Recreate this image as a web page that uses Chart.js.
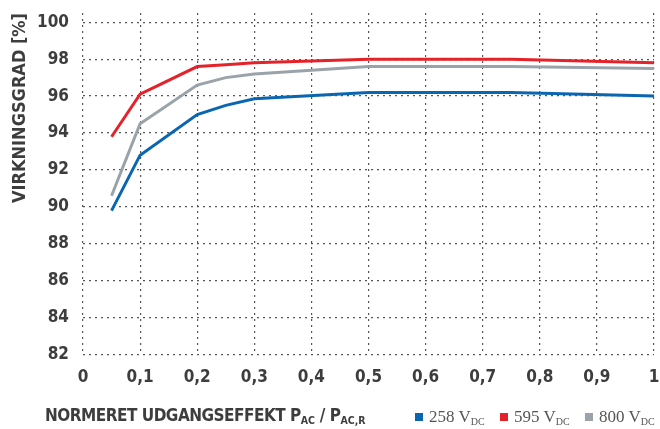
<!DOCTYPE html>
<html>
<head>
<meta charset="utf-8">
<script src="https://cdn.jsdelivr.net/npm/chart.js@4"></script>
<style>
  body { margin: 0; background: #fff; }
  #wrap { position: relative; width: 660px; height: 429px; }
  .xtitle { position: absolute; left: 45px; top: 405px; font: bold 17px "DejaVu Sans Condensed", sans-serif; color: #3d3d3d; letter-spacing: -0.5px; white-space: nowrap; }
  .xtitle sub { font-size: 10.5px; vertical-align: -3px; letter-spacing: 0; }
  .legend { position: absolute; top: 407px; font: 17px "Liberation Serif", serif; color: #555; white-space: nowrap; }
  .legend i { display: inline-block; width: 8px; height: 8px; margin-right: 6px; vertical-align: 1px; }
  .legend sub { font-size: 10px; vertical-align: -3px; }
</style>
</head>
<body>
<div id="wrap">
  <canvas id="lineChart" width="660" height="429"></canvas>
  <div class="xtitle">NORMERET UDGANGSEFFEKT P<sub>AC</sub> / P<sub>AC,R</sub></div>
  <div class="legend" style="left:415px"><i style="background:#0b66b2"></i>258 V<sub>DC</sub></div>
  <div class="legend" style="left:500px"><i style="background:#e5222a"></i>595 V<sub>DC</sub></div>
  <div class="legend" style="left:585px"><i style="background:#9aa3aa"></i>800 V<sub>DC</sub></div>
</div>
<script>
const loads = [0.05, 0.1, 0.2, 0.25, 0.3, 0.5, 0.75, 1.0]
const eff258 = [89.8, 92.8, 95.0, 95.5, 95.85, 96.2, 96.2, 96.0]
const eff595 = [93.8, 96.1, 97.6, 97.7, 97.8, 98.0, 98.0, 97.8]
const eff800 = [90.6, 94.5, 96.6, 97.0, 97.2, 97.6, 97.6, 97.5]
const yTicks = [82, 84, 86, 88, 90, 92, 94, 96, 98, 100]

const toPoints = (vals) => loads.map((x, i) => ({ x: x, y: vals[i] }))

const gridStyle = {
  color: "#555",
  lineWidth: 1.2,
  drawTicks: false,
}
const tickFont = { family: "DejaVu Sans Condensed", weight: "bold", size: 17 }

new Chart(document.querySelector("#lineChart"), {
  type: "line",
  data: {
    datasets: [
      { label: "800 VDC", data: toPoints(eff800), borderColor: "#9aa3aa", borderWidth: 3, pointRadius: 0, fill: false },
      { label: "258 VDC", data: toPoints(eff258), borderColor: "#0b66b2", borderWidth: 3, pointRadius: 0, fill: false },
      { label: "595 VDC", data: toPoints(eff595), borderColor: "#e5222a", borderWidth: 3, pointRadius: 0, fill: false },
    ],
  },
  options: {
    responsive: false,
    animation: false,
    layout: { padding: { top: 13, right: 6, bottom: 28, left: 10 } },
    plugins: { legend: { display: false }, tooltip: { enabled: false } },
    scales: {
      x: {
        type: "linear",
        min: 0,
        max: 1,
        grid: gridStyle,
        border: { display: false, dash: [2, 4] },
        afterFit: (scale) => { scale.paddingRight = 0 },
        ticks: {
          stepSize: 0.1,
          padding: 13,
          color: "#3d3d3d",
          font: tickFont,
          callback: (v) => String(Math.round(v * 10) / 10).replace(".", ","),
        },
      },
      y: {
        min: 82,
        max: 100.5,
        grid: gridStyle,
        border: { display: false, dash: [2, 4] },
        afterBuildTicks: (scale) => { scale.ticks = yTicks.map((v) => ({ value: v })) },
        afterFit: (scale) => { scale.width = 73; scale.paddingTop = 0 },
        ticks: {
          padding: 14,
          color: "#3d3d3d",
          font: tickFont,
        },
        title: {
          display: true,
          text: "VIRKNINGSGRAD [%]",
          align: "end",
          color: "#3d3d3d",
          padding: 0,
          font: { family: "DejaVu Sans Condensed", weight: "bold", size: 18 },
        },
      },
    },
  },
})
</script>
</body>
</html>
